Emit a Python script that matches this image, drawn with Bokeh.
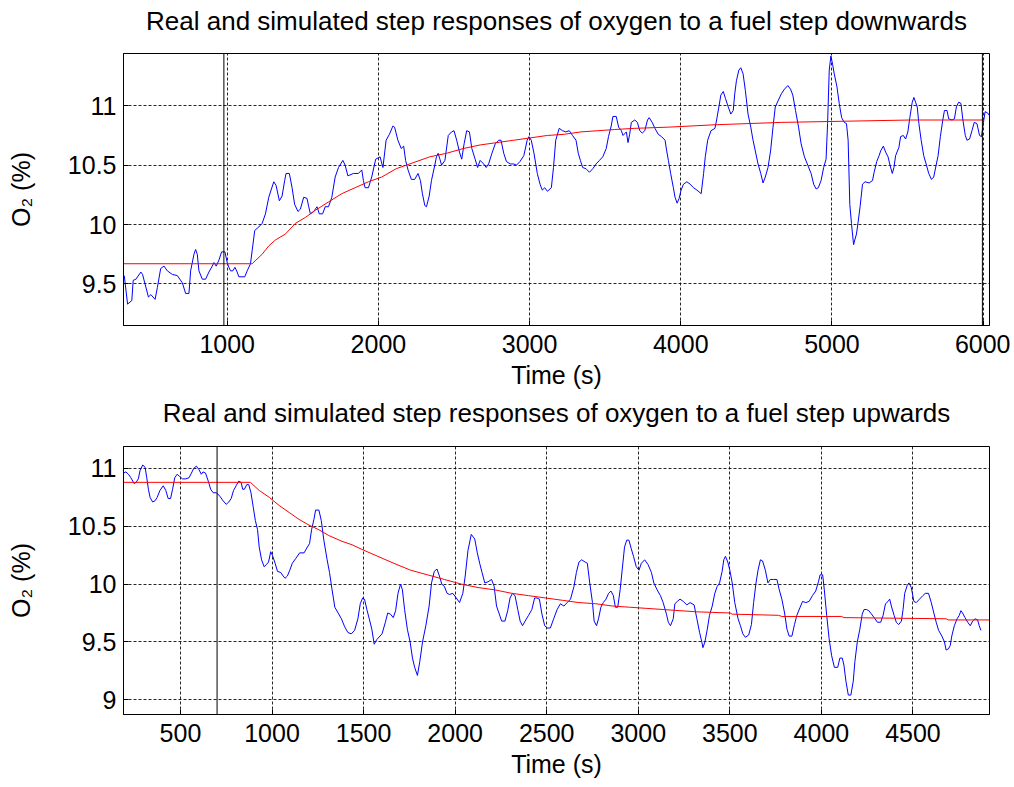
from bokeh.plotting import figure
from bokeh.layouts import column
from bokeh.models import Range1d, FixedTicker, Span, LinearAxis
from bokeh.embed import file_html
from bokeh.resources import INLINE

# ---------------- data: fuel step downwards (top) ----------------
down_title = "Real and simulated step responses of oxygen to a fuel step downwards"
down_xticks = [1000, 2000, 3000, 4000, 5000, 6000]
down_yticks = [9.5, 10, 10.5, 11]
down_xlim = (314, 6042)
down_ylim = (9.15, 11.44)
down_step_marks = [978, 5995]

down_real_t = [
    319, 341, 369, 378, 396, 429, 440, 479, 495, 523,
    538, 560, 582, 604, 637, 670, 703, 725, 747, 758,
    780, 791, 802, 813, 835, 857, 879, 901, 912, 927,
    945, 963, 985, 1000, 1011, 1022, 1037, 1051, 1066, 1077,
    1116, 1132, 1154, 1165, 1182, 1209, 1231, 1253, 1275, 1308,
    1323, 1345, 1363, 1380, 1389, 1411, 1429, 1446, 1468, 1484,
    1506, 1528, 1539, 1550, 1572, 1594, 1609, 1631, 1648, 1670,
    1692, 1714, 1736, 1765, 1780, 1798, 1835, 1868, 1890, 1901,
    1912, 1934, 1956, 1982, 2011, 2030,
    2051, 2073, 2096, 2107, 2129, 2151, 2167, 2180, 2196, 2218,
    2240, 2262, 2278, 2291, 2307, 2318, 2336, 2351, 2373, 2384,
    2395, 2407, 2418, 2440, 2462, 2484, 2500, 2518, 2536, 2551,
    2567, 2584, 2602, 2618, 2640, 2656, 2673, 2696, 2713, 2729,
    2751, 2773, 2796, 2811, 2829, 2847, 2873, 2896, 2913, 2936,
    2962, 2984, 2996, 3011, 3029, 3051, 3069, 3084, 3100, 3118,
    3144, 3158, 3173, 3196, 3218, 3240, 3262, 3284, 3307, 3322,
    3336, 3351, 3373, 3396, 3418, 3440, 3462, 3484, 3507, 3522,
    3540, 3551, 3573, 3589, 3607, 3618, 3640, 3651, 3662, 3673,
    3696, 3713, 3729, 3745, 3762, 3780, 3791, 3811, 3829, 3851,
    3873, 3896, 3907, 3918, 3933, 3951, 3962, 3976, 3989, 4002,
    4018, 4040, 4062, 4084, 4107, 4135, 4151, 4162,
    4178, 4200, 4226, 4237, 4252, 4265, 4281, 4296, 4314, 4331,
    4347, 4357, 4368, 4384, 4397, 4412, 4427, 4445, 4463, 4478,
    4493, 4511, 4529, 4544, 4559, 4577, 4594, 4610, 4625, 4643,
    4665, 4686, 4708, 4726, 4741, 4759, 4779, 4796, 4818, 4840,
    4862, 4879, 4895, 4910, 4928, 4945, 4961, 4971, 4982, 4993,
    5004, 5015, 5033, 5048, 5064, 5081, 5096, 5107, 5118, 5129,
    5143, 5151, 5162, 5173, 5186, 5202, 5219, 5246, 5268, 5279,
    5296, 5312, 5322, 5340, 5355, 5371, 5384, 5399, 5410, 5421,
    5443, 5454, 5472, 5487, 5502, 5515, 5531, 5542, 5553, 5564,
    5575, 5590, 5607, 5625, 5640, 5658, 5673, 5689, 5702, 5717,
    5733, 5744, 5761, 5772, 5794, 5810, 5823, 5838, 5853, 5866,
    5882, 5893, 5910, 5926, 5941, 5959, 5976, 5989, 6002, 6013,
    6029, 6040,
]
down_real_o2 = [
    9.57, 9.33, 9.36, 9.53, 9.54, 9.60, 9.58, 9.39, 9.41, 9.37,
    9.47, 9.63, 9.65, 9.61, 9.58, 9.57, 9.51, 9.42, 9.42, 9.61,
    9.75, 9.79, 9.75, 9.61, 9.54, 9.54, 9.60, 9.65, 9.68, 9.65,
    9.70, 9.77, 9.77, 9.68, 9.64, 9.61, 9.61, 9.64, 9.60, 9.56,
    9.56, 9.61, 9.67, 9.78, 9.95, 9.98, 10.01, 10.09, 10.23, 10.36,
    10.33, 10.20, 10.24, 10.37, 10.43, 10.43, 10.31, 10.17, 10.11, 10.13,
    10.23, 10.22, 10.15, 10.09, 10.11, 10.15, 10.09, 10.09, 10.15, 10.15,
    10.23, 10.40, 10.48, 10.54, 10.50, 10.41, 10.43, 10.43, 10.46, 10.37,
    10.31, 10.31, 10.40, 10.55, 10.57, 10.48,
    10.71, 10.76, 10.83, 10.82, 10.71, 10.64, 10.66, 10.54, 10.46, 10.38,
    10.38, 10.43, 10.37, 10.26, 10.16, 10.15, 10.24, 10.37, 10.50, 10.57,
    10.60, 10.55, 10.50, 10.54, 10.75, 10.78, 10.79, 10.71, 10.61, 10.55,
    10.68, 10.79, 10.78, 10.64, 10.55, 10.48, 10.54, 10.51, 10.48, 10.51,
    10.60, 10.68, 10.71, 10.71, 10.60, 10.53, 10.51, 10.51, 10.50, 10.53,
    10.58, 10.71, 10.74, 10.71, 10.60, 10.43, 10.34, 10.29, 10.31, 10.28,
    10.31, 10.48, 10.71, 10.81, 10.79, 10.78, 10.79, 10.75, 10.71, 10.60,
    10.54, 10.48, 10.47, 10.44, 10.47, 10.51, 10.54, 10.57, 10.64, 10.74,
    10.83, 10.91, 10.91, 10.82, 10.79, 10.75, 10.78, 10.69, 10.76, 10.86,
    10.88, 10.86, 10.79, 10.77, 10.79, 10.88, 10.90, 10.86, 10.81, 10.76,
    10.74, 10.71, 10.62, 10.54, 10.43, 10.31, 10.23, 10.18, 10.22, 10.29,
    10.34, 10.36, 10.34, 10.31, 10.29, 10.26, 10.43, 10.57,
    10.71, 10.79, 10.81, 10.88, 10.99, 11.09, 11.12, 11.06, 10.99, 10.93,
    10.96, 11.10, 11.21, 11.30, 11.32, 11.27, 11.13, 10.93, 10.82, 10.71,
    10.62, 10.51, 10.43, 10.35, 10.40, 10.48, 10.62, 10.82, 10.99, 11.04,
    11.10, 11.14, 11.17, 11.14, 11.09, 10.96, 10.82, 10.68, 10.57, 10.50,
    10.43, 10.34, 10.30, 10.31, 10.37, 10.48, 10.55, 10.85, 11.30, 11.42,
    11.35, 11.27, 11.16, 11.02, 10.90, 10.86, 10.85, 10.71, 10.17, 10.01,
    9.83, 9.87, 9.92, 10.02, 10.15, 10.34, 10.36, 10.35, 10.37, 10.44,
    10.53, 10.58, 10.62, 10.66, 10.61, 10.57, 10.50, 10.43, 10.48, 10.58,
    10.65, 10.74, 10.75, 10.72, 10.78, 10.90, 11.03, 11.07, 11.03, 10.99,
    10.85, 10.71, 10.58, 10.50, 10.43, 10.38, 10.40, 10.50, 10.58, 10.74,
    10.88, 10.96, 10.96, 10.89, 10.88, 10.89, 10.99, 11.03, 11.02, 10.88,
    10.75, 10.71, 10.72, 10.79, 10.86, 10.85, 10.75, 10.74, 10.86, 10.95,
    10.94, 10.92,
]
down_sim_t = [
    314, 1165, 1231, 1275, 1319, 1385, 1451, 1517, 1583, 1670,
    1758, 1846, 1934, 2022, 2118, 2229, 2340, 2451, 2562, 2673,
    2784, 2896, 3007, 3118, 3229, 3340, 3451, 3562, 3696, 3918,
    4226, 4665, 5520, 6002,
]
down_sim_o2 = [
    9.67, 9.67, 9.75, 9.82, 9.87, 9.92, 10.01, 10.06, 10.12, 10.19,
    10.26, 10.31, 10.36, 10.40, 10.47, 10.52, 10.57, 10.60, 10.64, 10.67,
    10.69, 10.71, 10.73, 10.75, 10.76, 10.78, 10.79, 10.80, 10.81, 10.82,
    10.84, 10.86, 10.88, 10.88,
]

# ---------------- data: fuel step upwards (bottom) ----------------
up_title = "Real and simulated step responses of oxygen to a fuel step upwards"
up_xticks = [500, 1000, 1500, 2000, 2500, 3000, 3500, 4000, 4500]
up_yticks = [9, 9.5, 10, 10.5, 11]
up_xlim = (189, 4918)
up_ylim = (8.872, 11.19)
up_step_marks = [700]

up_real_t = [
    189, 202, 216, 229, 240, 247, 258, 270, 279, 294,
    307, 316, 325, 334, 348, 361, 373, 388, 406, 420,
    433, 446, 457, 469, 482, 496, 511, 529, 547, 560,
    572, 587, 601, 614, 623, 637, 652, 665, 679, 697,
    715, 733, 750, 764, 777, 790, 804, 818, 831, 840,
    849, 862, 873, 885, 898, 909, 921, 930, 943, 957,
    970, 981, 993, 1002, 1017, 1030, 1048, 1061, 1071, 1084,
    1097, 1111, 1129, 1151, 1175, 1193, 1205, 1216, 1229, 1238,
    1256, 1269, 1283, 1301, 1314, 1328, 1343, 1361, 1379, 1397,
    1415, 1433, 1451, 1469, 1482, 1495, 1505, 1518, 1531, 1545,
    1558, 1572,
    1601, 1619, 1632, 1647, 1662, 1675, 1688, 1702, 1712, 1724,
    1739, 1754, 1767, 1779, 1794, 1807, 1822, 1840, 1858, 1871,
    1886, 1901, 1914, 1927, 1941, 1956, 1969, 1987, 2006, 2024,
    2042, 2055, 2070, 2088, 2107, 2121, 2134, 2147, 2162, 2180,
    2199, 2213, 2226, 2239, 2254, 2272, 2287, 2300, 2313, 2327,
    2342, 2355, 2368, 2382, 2401, 2419, 2434, 2447, 2460, 2474,
    2489, 2502, 2520, 2538, 2557, 2575, 2594, 2612, 2630, 2649,
    2662, 2676, 2691, 2710, 2722, 2735, 2750, 2759, 2772, 2783,
    2796, 2809, 2824, 2838, 2851, 2864, 2875, 2888, 2901, 2912,
    2925, 2937, 2949, 2961, 2974, 2989, 3004, 3017, 3035, 3053,
    3072, 3085, 3103, 3121, 3136, 3154, 3164, 3176, 3191, 3200,
    3213, 3228, 3246, 3265, 3283, 3305, 3320, 3335, 3347,
    3353, 3364, 3377, 3389, 3404, 3418, 3431, 3444, 3458, 3467,
    3476, 3489, 3500, 3513, 3527, 3545, 3558, 3571, 3585, 3603,
    3618, 3630, 3643, 3654, 3667, 3679, 3694, 3708, 3721, 3739,
    3757, 3770, 3784, 3799, 3812, 3824, 3839, 3853, 3866, 3884,
    3897, 3915, 3933, 3951, 3969, 3984, 3993, 4007, 4016, 4029,
    4042, 4056, 4071, 4089, 4101, 4114, 4123, 4134, 4147, 4161,
    4174, 4183, 4196, 4210, 4223, 4233, 4246, 4259, 4274, 4288,
    4306, 4324, 4337, 4350, 4364, 4373, 4382, 4397, 4409, 4422,
    4437, 4446, 4455, 4469, 4478, 4491, 4505, 4518, 4536, 4554,
    4567, 4585, 4600, 4614, 4627, 4640, 4658, 4672, 4681, 4694,
    4704, 4712, 4726, 4741, 4753, 4762, 4771, 4784, 4799, 4813,
    4826, 4839, 4853, 4862, 4871,
]
up_real_o2 = [
    10.96, 10.97, 10.95, 10.92, 10.89, 10.87, 10.88, 10.91, 10.98, 11.03,
    11.01, 10.92, 10.82, 10.75, 10.71, 10.72, 10.75, 10.81, 10.85, 10.81,
    10.74, 10.74, 10.82, 10.92, 10.95, 10.93, 10.91, 10.91, 10.92, 10.96,
    11.00, 11.02, 10.99, 10.95, 10.97, 10.96, 10.89, 10.82, 10.79, 10.79,
    10.76, 10.72, 10.69, 10.71, 10.74, 10.81, 10.85, 10.89, 10.88, 10.82,
    10.82, 10.86, 10.86, 10.79, 10.66, 10.55, 10.47, 10.32, 10.21, 10.15,
    10.17, 10.19, 10.28, 10.25, 10.18, 10.11, 10.10, 10.07, 10.05, 10.07,
    10.12, 10.18, 10.22, 10.27, 10.27, 10.32, 10.35, 10.47, 10.56, 10.64,
    10.64, 10.55, 10.38, 10.21, 10.10, 9.95, 9.80, 9.75, 9.70, 9.63,
    9.58, 9.57, 9.60, 9.70, 9.83, 9.88, 9.87, 9.78, 9.70, 9.61,
    9.48, 9.52,
    9.57, 9.67, 9.75, 9.74, 9.71, 9.77, 9.92, 10.00, 9.95, 9.78,
    9.61, 9.50, 9.36, 9.28, 9.21, 9.33, 9.50, 9.64, 9.81, 10.01,
    10.11, 10.13, 10.07, 10.00, 9.98, 9.92, 9.91, 9.92, 9.88, 9.84,
    9.92, 10.07, 10.29, 10.43, 10.39, 10.27, 10.18, 10.10, 10.01, 10.02,
    10.04, 9.98, 9.81, 9.75, 9.68, 9.68, 9.77, 9.88, 9.92, 9.90,
    9.78, 9.68, 9.64, 9.68, 9.73, 9.78, 9.88, 9.88, 9.87, 9.74,
    9.64, 9.62, 9.62, 9.70, 9.78, 9.83, 9.81, 9.84, 9.87, 9.98,
    10.10, 10.19, 10.21, 10.19, 10.18, 10.01, 9.84, 9.68, 9.64, 9.70,
    9.80, 9.84, 9.87, 9.92, 9.94, 9.90, 9.80, 9.80, 9.95, 10.12,
    10.32, 10.38, 10.38, 10.31, 10.24, 10.15, 10.12, 10.18, 10.21, 10.17,
    10.10, 10.01, 9.95, 9.90, 9.84, 9.74, 9.67, 9.64, 9.70, 9.83,
    9.85, 9.87, 9.85, 9.82, 9.84, 9.82, 9.70, 9.58, 9.50,
    9.45, 9.50, 9.61, 9.73, 9.81, 9.92, 9.98, 10.01, 10.11, 10.21,
    10.24, 10.19, 10.12, 10.01, 9.84, 9.70, 9.64, 9.57, 9.54, 9.56,
    9.65, 9.84, 10.01, 10.12, 10.21, 10.20, 10.12, 10.01, 10.04, 10.04,
    10.04, 9.95, 9.87, 9.75, 9.61, 9.55, 9.55, 9.65, 9.73, 9.80,
    9.85, 9.84, 9.85, 9.90, 9.94, 10.02, 10.08, 10.08, 9.95, 9.73,
    9.53, 9.38, 9.28, 9.28, 9.36, 9.36, 9.30, 9.16, 9.04, 9.04,
    9.16, 9.33, 9.50, 9.61, 9.74, 9.78, 9.78, 9.77, 9.74, 9.71,
    9.67, 9.67, 9.73, 9.83, 9.85, 9.87, 9.81, 9.73, 9.67, 9.65,
    9.68, 9.78, 9.92, 9.99, 10.01, 9.97, 9.85, 9.84, 9.87, 9.90,
    9.92, 9.92, 9.84, 9.75, 9.67, 9.60, 9.55, 9.50, 9.43, 9.44,
    9.47, 9.55, 9.64, 9.70, 9.73, 9.77, 9.75, 9.71, 9.67, 9.64,
    9.68, 9.70, 9.69, 9.64, 9.60,
]
up_sim_t = [
    189, 882, 930, 985, 1039, 1093, 1147, 1202, 1256, 1310,
    1382, 1437, 1491, 1563, 1665, 1757, 1849, 1941, 2033, 2125,
    2217, 2309, 2401, 2493, 2585, 2676, 2768, 2860, 2952, 3044,
    3136, 3228, 3320, 3502, 3513, 3766, 3784, 4110, 4123, 4681,
    4694, 4918,
]
up_sim_o2 = [
    10.88, 10.88, 10.81, 10.75, 10.68, 10.62, 10.56, 10.51, 10.47, 10.42,
    10.37, 10.34, 10.30, 10.25, 10.18, 10.12, 10.08, 10.04, 10.00, 9.97,
    9.95, 9.92, 9.90, 9.88, 9.86, 9.84, 9.83, 9.81, 9.80, 9.79,
    9.78, 9.77, 9.76, 9.75, 9.74, 9.73, 9.72, 9.72, 9.71, 9.70,
    9.69, 9.69,
]

FONT = "Liberation Sans"
FIG_W = 1010


def make_panel(title, xlim, ylim, xticks, yticks, real_t, real_o2, sim_t, sim_o2,
               marks, height, border_left, border_right, border_top, border_bottom,
               title_standoff):
    p = figure(width=FIG_W, height=height,
               x_range=Range1d(*xlim), y_range=Range1d(*ylim),
               output_backend="svg", toolbar_location=None,
               min_border_left=border_left, min_border_right=border_right,
               min_border_top=border_top, min_border_bottom=border_bottom,
               background_fill_color="white", border_fill_color="white")

    xa = p.below[0]
    ya = p.left[0]

    # chart title, drawn as the label of a bare axis above the frame
    title_axis = LinearAxis(axis_label=title, ticker=FixedTicker(ticks=[]))
    title_axis.axis_line_color = None
    title_axis.major_tick_line_color = None
    title_axis.minor_tick_line_color = None
    title_axis.major_tick_out = 0
    title_axis.major_tick_in = 0
    title_axis.major_label_standoff = 0
    title_axis.major_label_text_font_size = "0px"
    title_axis.axis_label_standoff = title_standoff
    title_axis.axis_label_text_font = FONT
    title_axis.axis_label_text_font_size = "26px"
    title_axis.axis_label_text_font_style = "normal"
    title_axis.axis_label_text_color = "black"
    p.add_layout(title_axis, "above")

    p.outline_line_color = "black"
    p.outline_line_width = 1
    p.outline_line_alpha = 1

    for ax in (xa, ya):
        ax.axis_line_color = "black"
        ax.major_tick_in = 5
        ax.major_tick_out = 0
        ax.minor_tick_line_color = None
        ax.major_tick_line_color = "black"
        ax.major_label_text_font = FONT
        ax.major_label_text_font_size = "25px"
        ax.major_label_text_color = "black"
        ax.axis_label_text_font = FONT
        ax.axis_label_text_font_size = "25px"
        ax.axis_label_text_font_style = "normal"
        ax.axis_label_text_color = "black"

    xa.ticker = FixedTicker(ticks=xticks)
    ya.ticker = FixedTicker(ticks=yticks)
    xa.axis_label = "Time (s)"
    ya.axis_label = "O\u2082 (%)"
    xa.major_label_standoff = 9
    xa.axis_label_standoff = 5
    ya.major_label_standoff = 7
    ya.axis_label_standoff = 30

    for g in (p.xgrid, p.ygrid):
        g.grid_line_color = "black"
        g.grid_line_alpha = 0.85
        g.grid_line_dash = "3 2"
        g.grid_line_width = 1

    for m in marks:
        p.add_layout(Span(location=m, dimension="height",
                          line_color="black", line_width=1))

    p.line(real_t, real_o2, line_color="#0000ff", line_width=1)
    p.line(sim_t, sim_o2, line_color="#ff0000", line_width=1)
    return p


p1 = make_panel(down_title, down_xlim, down_ylim, down_xticks, down_yticks,
                down_real_t, down_real_o2, down_sim_t, down_sim_o2,
                down_step_marks, 394, 121, 21, 53, 69, 18)
p2 = make_panel(up_title, up_xlim, up_ylim, up_xticks, up_yticks,
                up_real_t, up_real_o2, up_sim_t, up_sim_o2,
                up_step_marks, 386, 123, 18, 51, 63, 19)

layout = column(p1, p2, spacing=0)
open("out.html", "w").write(file_html(layout, INLINE))
